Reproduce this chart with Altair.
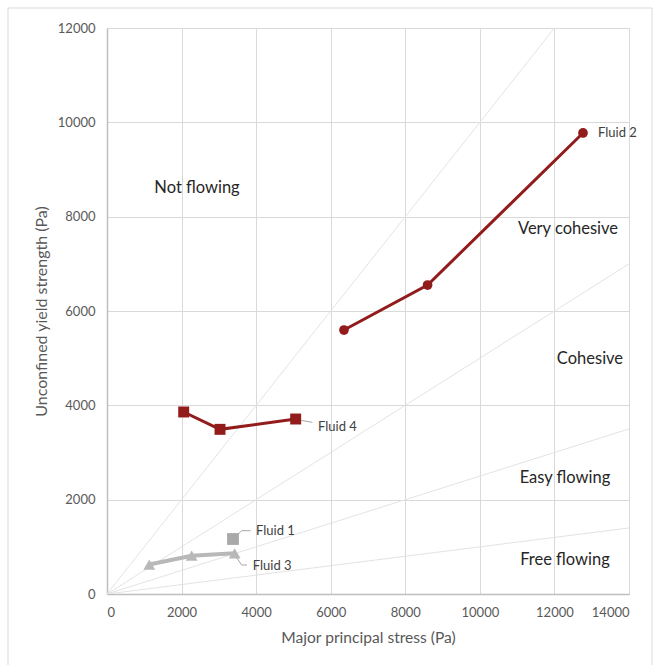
import altair as alt
import pandas as pd

# ---- data ----
fluid2_x = [6356, 8598, 12766]
fluid2_y = [5597, 6551, 9774]
fluid4_x = [2057, 3031, 5060]
fluid4_y = [3859, 3491, 3710]
fluid1_x = [3379]
fluid1_y = [1166]
fluid3_x = [1134, 2271, 3424]
fluid3_y = [625, 812, 862]

# flow-function reference lines (ffc = 1, 2, 4, 10)
ref_names = ["ffc1", "ffc2", "ffc4", "ffc10"]
ref_x_end = [12000, 14000, 14000, 14000]
ref_y_end = [12000, 7000, 3500, 1400]

zone_labels = ["Not flowing", "Very cohesive", "Cohesive", "Easy flowing", "Free flowing"]
zone_x = [2414, 12364, 12953, 12283, 12283]
zone_y = [8608, 7739, 4982, 2459, 721]

series_labels = ["Fluid 2", "Fluid 4", "Fluid 1", "Fluid 3"]
series_lab_x = [13169, 5659, 3996, 3910]
series_lab_y = [9774, 3547, 1339, 603]

leader_id = ["f4", "f4", "f1", "f1", "f1", "f3", "f3", "f3"]
leader_x = [5203, 5506, 3520, 3611, 3852, 3477, 3611, 3754]
leader_y = [3682, 3640, 1272, 1342, 1342, 771, 615, 615]

x_ticks = list(range(0, 14001, 2000))
y_ticks = list(range(0, 12001, 2000))

FONT = "Lato"
RED = "#921c1c"
GREY = "#a9a9a9"

xs = alt.Scale(domain=[0, 14000], nice=False)
ys = alt.Scale(domain=[0, 12000], nice=False)

ref_rows = []
for n, xe, ye in zip(ref_names, ref_x_end, ref_y_end):
    ref_rows.append({"name": n, "x": 0, "y": 0, "o": 0})
    ref_rows.append({"name": n, "x": xe, "y": ye, "o": 1})
ref_df = pd.DataFrame(ref_rows)

X = alt.X("x:Q", scale=xs,
          axis=alt.Axis(values=x_ticks, format="d", title="Major principal stress (Pa)", grid=True,
                        gridColor="#d9d9d9", domainColor="#bfbfbf", domainWidth=1.5, ticks=False,
                        labelColor="#595959", labelFont=FONT, labelFontSize=13, labelPadding=12,
                        titleColor="#595959", titleFont=FONT, titleFontSize=15.6, titleFontWeight="normal",
                        titlePadding=11))
Y = alt.Y("y:Q", scale=ys,
          axis=alt.Axis(values=y_ticks, format="d", title="Unconfined yield strength (Pa)", grid=True,
                        gridColor="#d9d9d9", domainColor="#bfbfbf", domainWidth=1.5, ticks=False,
                        labelColor="#595959", labelFont=FONT, labelFontSize=13, labelPadding=12,
                        titleColor="#595959", titleFont=FONT, titleFontSize=16, titleFontWeight="normal",
                        titlePadding=8))

refs = alt.Chart(ref_df).mark_line(color="#e3e3e3", strokeWidth=1, clip=True).encode(
    x=X, y=Y, detail="name:N", order="o:Q")

def series(xv, yv, color, shape, size, width, name):
    df = pd.DataFrame({"x": xv, "y": yv, "i": list(range(len(xv))), "s": name})
    base = alt.Chart(df)
    layers = []
    if len(xv) > 1:
        layers.append(base.mark_line(color=color, strokeWidth=width).encode(
            x="x:Q", y="y:Q", order="i:Q"))
    layers.append(base.mark_point(color=color, filled=True, opacity=1, shape=shape, size=size).encode(
        x="x:Q", y="y:Q"))
    return layers

s_layers = []
s_layers += series(fluid3_x, fluid3_y, "#b8b8b8", "triangle-up", 140, 4, "Fluid 3")
s_layers += series(fluid1_x, fluid1_y, GREY, "square", 140, 3, "Fluid 1")
s_layers += series(fluid4_x, fluid4_y, RED, "square", 120, 3, "Fluid 4")
s_layers += series(fluid2_x, fluid2_y, RED, "circle", 95, 3, "Fluid 2")

leader_df = pd.DataFrame({"id": leader_id, "x": leader_x, "y": leader_y,
                          "o": list(range(len(leader_x)))})
leaders = alt.Chart(leader_df).mark_line(color="#a6a6a6", strokeWidth=1).encode(
    x="x:Q", y="y:Q", detail="id:N", order="o:Q")

zone_df = pd.DataFrame({"t": zone_labels, "x": zone_x, "y": zone_y})
zones = alt.Chart(zone_df).mark_text(font=FONT, fontSize=16.5, color="#262626", align="center",
                                     baseline="middle").encode(x="x:Q", y="y:Q", text="t:N")

sl_df = pd.DataFrame({"t": series_labels, "x": series_lab_x, "y": series_lab_y})
slabels = alt.Chart(sl_df).mark_text(font=FONT, fontSize=13, color="#404040", align="left",
                                     baseline="middle").encode(x="x:Q", y="y:Q", text="t:N")

border = alt.Chart(pd.DataFrame({"a": [0]})).mark_rect(
    fill=None, stroke="#d9d9d9", strokeWidth=1, clip=False).encode(
    x=alt.value(-99), x2=alt.value(545), y=alt.value(-20), y2=alt.value(700))

chart = alt.layer(refs, *s_layers, leaders, zones, slabels, border).properties(
    width=522, height=566,
    autosize=alt.AutoSizeParams(type="none"),
    padding={"left": 107, "top": 28, "right": 32, "bottom": 71},
).configure_view(stroke=None).configure(background="white")

chart.save("out.html", embed_options={"renderer": "svg", "actions": False})
